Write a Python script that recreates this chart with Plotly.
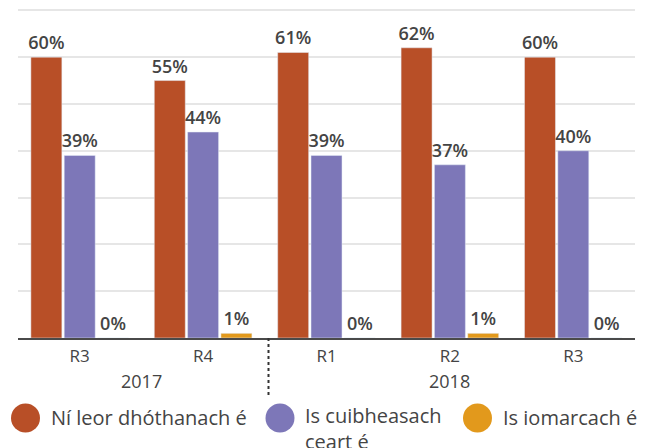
import plotly.graph_objects as go

categories = ["2017 R3", "2017 R4", "2018 R1", "2018 R2", "2018 R3"]
round_labels = ["R3", "R4", "R1", "R2", "R3"]
years = ["2017", "2018"]
series_names = ["Ní leor dhóthanach é", "Is cuibheasach<br>ceart é", "Is iomarcach é"]
not_enough = [60, 55, 61, 62, 60]
about_right = [39, 44, 39, 37, 40]
too_much = [0, 1, 0, 1, 0]
colors = ["#B84F27", "#7D77B8", "#E2991C"]

FONT = "Open Sans"
TXT = "#444444"

fig = go.Figure()
for name, vals, col in zip(series_names, [not_enough, about_right, too_much], colors):
    fig.add_trace(go.Bar(
        x=categories, y=vals, name=name, marker_color=col,
        text=[f"{v}%" for v in vals], textposition="outside", constraintext="none",
        textfont=dict(family=FONT, size=18, color=TXT, weight=600),
        cliponaxis=False, showlegend=False,
    ))

W, H = 652, 448
L, R, T, B = 18, 17, 8, 110
plot_w = W - L - R
plot_h = H - T - B

def py(pix):
    return (H - B - pix) / plot_h

def px(pix):
    return (pix - L) / plot_w

fig.update_layout(
    width=W, height=H,
    margin=dict(l=L, r=R, t=T, b=B),
    paper_bgcolor="white", plot_bgcolor="white",
    barmode="group", bargap=0.19, bargroupgap=0.07,
    font=dict(family=FONT, color=TXT),
    xaxis=dict(
        type="category", tickmode="array", tickvals=categories, ticktext=round_labels,
        tickfont=dict(size=17, color=TXT), showline=True, linecolor="#4a4a4a",
        linewidth=2, showgrid=False, ticks="", ticklabelstandoff=2,
    ),
    yaxis=dict(
        range=[0, 70.5], dtick=10, showticklabels=False, showgrid=True,
        gridcolor="#e6e6e6", gridwidth=2, zeroline=False,
    ),
)

# year labels
year_pos = [0.5, 3]
for yr, xp in zip(years, year_pos):
    fig.add_annotation(x=xp, xref="x", y=py(381), yref="paper", yanchor="middle",
                       text=yr, showarrow=False, font=dict(size=18, color=TXT))

# year separator (dotted)
fig.add_shape(type="line", x0=1.53, x1=1.53, xref="x", y0=0, y1=py(395), yref="paper",
              line=dict(color="#333333", width=2, dash="dot"))

# custom legend with large circles
leg_x = [25.5, 280, 477.5]
for name, col, cx in zip(series_names, colors, leg_x):
    r = 14.5
    fig.add_shape(type="circle", xref="paper", yref="paper",
                  x0=px(cx - r), x1=px(cx + r), y0=py(418 + r), y1=py(418 - r),
                  fillcolor=col, line=dict(width=0))
    fig.add_annotation(x=px(cx + 23), xref="paper", y=py(402), yref="paper",
                       xanchor="left", yanchor="top", align="left", text=name,
                       showarrow=False, font=dict(size=20, color=TXT))

# tighten the two-line legend entry
for a in fig.layout.annotations:
    if "<br>" in a.text:
        a.y = py(400)

fig.write_html("out.html", config={"displayModeBar": False},
               post_script="document.body.style.margin='0';document.body.style.padding='0';")
